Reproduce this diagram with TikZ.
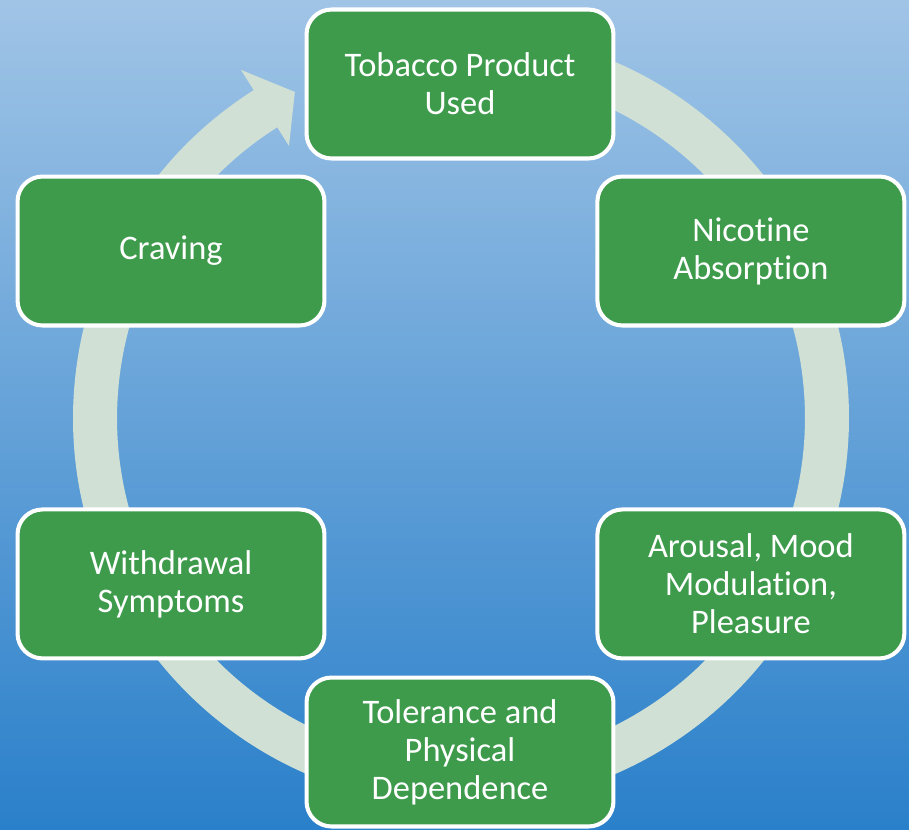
\documentclass[tikz,border=0pt]{standalone}
\usepackage{fontspec}
\setmainfont[Ligatures=NoCommon]{Carlito}
\usetikzlibrary{positioning}
\definecolor{bgtop}{RGB}{160,196,230}
\definecolor{bgbottom}{RGB}{42,128,202}
\definecolor{ringgray}{RGB}{208,224,212}
\definecolor{stepgreen}{RGB}{62,155,76}
\tikzstyle{stepbox} = [
  rectangle,
  rounded corners=0.5cm,
  minimum width=6.14cm,
  minimum height=2.98cm,
  align=center,
  draw=white,
  line width=2.3pt,
  fill=stepgreen,
  text=white,
  font=\fontsize{19.6}{21.6}\selectfont
]
\tikzstyle{ring} = [fill=ringgray]
\pgfdeclarelayer{background}
\pgfdeclarelayer{foreground}
\pgfsetlayers{background,main,foreground}

\begin{document}
\begin{tikzpicture}[node distance=6.66cm, x=0.02cm, y=0.02cm]
    \useasboundingbox (0,0) rectangle (909,-829);
    \node (craving) [stepbox] at (171,-251) {Craving};
    \node (withdrawal) [stepbox, below of=craving] {Withdrawal\\Symptoms};
    \node (nicotine) [stepbox, right of=craving, xshift=4.94cm] {Nicotine\\Absorption};
    \node (arousal) [stepbox, below of=nicotine] {Arousal, Mood\\Modulation,\\Pleasure};
    \node (used) [stepbox] at (460,-84) {Tobacco Product\\Used};
    \node (tolerance) [stepbox] at (460,-752) {Tolerance and\\Physical\\Dependence};
    \coordinate (hub) at (461,-418);

    \begin{pgfonlayer}{background}
    \shade [top color=bgtop, bottom color=bgbottom] (0,0) rectangle (909,-829);
    % the cycle arrow behind the steps
    \fill [ring, shift={(hub)}] (80:7.76cm) arc[start angle=80, end angle=-237.7, radius=7.76cm]
      -- (-237.7:8.24cm) -- (-243:7.32cm) -- (-237.7:6.44cm) -- (-237.7:6.88cm)
      arc[start angle=-237.7, end angle=80, radius=6.88cm] -- cycle;
    \end{pgfonlayer}
  \end{tikzpicture}
\end{document}
